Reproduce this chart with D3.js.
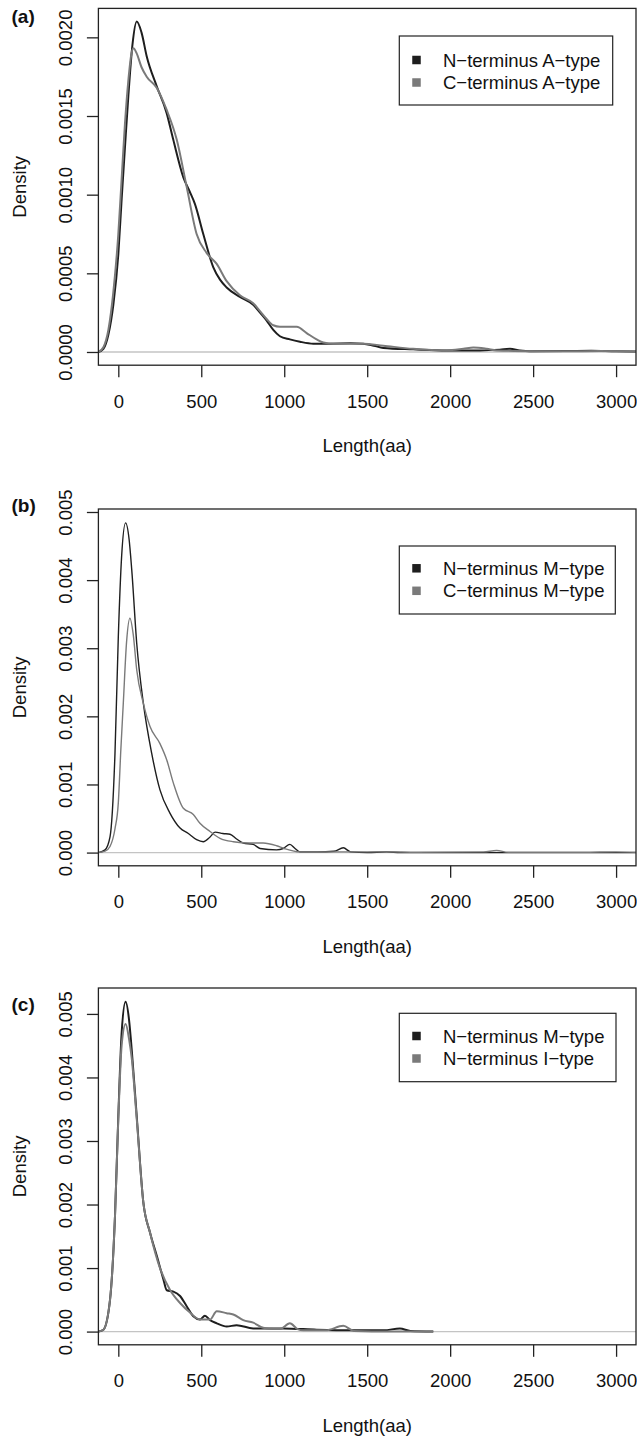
<!DOCTYPE html>
<html>
<head>
<meta charset="utf-8">
<script src="https://cdn.jsdelivr.net/npm/d3@7"></script>
<style>
  html, body { margin: 0; padding: 0; background: #fff; }
  svg { display: block; }
  text { font-family: "Liberation Sans", Arial, Helvetica, sans-serif; fill: #111; }
</style>
</head>
<body>
<svg id="chart" width="637" height="1437"></svg>
<script>
// ---------------- DATA ----------------
const xTickValues = [0, 500, 1000, 1500, 2000, 2500, 3000];
const xLimits = [0, 3000];
const xAxisTitle = "Length(aa)";
const yAxisTitle = "Density";

const panelLabels = ["(a)", "(b)", "(c)"];

const yTicksA = [0, 0.0005, 0.0010, 0.0015, 0.0020];
const yTickLabelsA = ["0.0000", "0.0005", "0.0010", "0.0015", "0.0020"];
const yMaxA = 0.0021;
const yTicksBC = [0, 0.001, 0.002, 0.003, 0.004, 0.005];
const yTickLabelsBC = ["0.000", "0.001", "0.002", "0.003", "0.004", "0.005"];
const yMaxB = 0.00485;
const yMaxC = 0.0052;

const legendA = ["N\u2212terminus A\u2212type", "C\u2212terminus A\u2212type"];
const legendB = ["N\u2212terminus M\u2212type", "C\u2212terminus M\u2212type"];
const legendC = ["N\u2212terminus M\u2212type", "N\u2212terminus I\u2212type"];

// density curves: [length, density]
const nTermA = [[-120,0],[-90,0.00002],[-60,0.00011],[-30,0.0003],[0,0.00062],[20,0.00097],[40,0.0013],[60,0.00162],[85,0.00195],[111,0.0021],[140,0.00203],[171,0.00188],[231,0.00169],[291,0.00152],[331,0.00135],[392,0.00111],[430,0.00102],[462,0.00094],[512,0.00075],[572,0.00054],[613,0.00046],[653,0.00041],[733,0.00035],[813,0.0003],[854,0.00025],[894,0.0002],[934,0.00014],[974,0.0001],[1034,0.00008],[1095,0.000065],[1175,0.000053],[1276,0.000053],[1400,0.000055],[1476,0.000053],[1540,0.00004],[1597,0.000026],[1777,0.000017],[1979,0.00001],[2179,0.00001],[2300,0.000015],[2360,0.00002],[2420,0.00001],[2480,0.000005],[2700,0.000006],[2850,0.000008],[3000,0.000004],[3120,0.000003]];
const cTermA = [[-120,0],[-90,0.00003],[-60,0.00014],[-30,0.00038],[0,0.00075],[20,0.0011],[40,0.00145],[60,0.00172],[80,0.0019],[91,0.00193],[110,0.0019],[140,0.00181],[171,0.00175],[231,0.00168],[291,0.00154],[352,0.00135],[412,0.00105],[472,0.00075],[532,0.00063],[593,0.00056],[653,0.00045],[733,0.00036],[813,0.00031],[854,0.00026],[894,0.00021],[934,0.00017],[974,0.00016],[1075,0.00016],[1135,0.00012],[1195,0.00008],[1236,0.00006],[1300,0.000052],[1476,0.000053],[1597,0.00004],[1777,0.00002],[1979,0.00001],[2080,0.00002],[2140,0.000028],[2220,0.00002],[2280,0.00001],[2500,0.000005],[2700,0.000004],[2900,0.000006],[3120,0.000003]];

const nTermMb = [[-120,0],[-80,0.00004],[-50,0.00023],[-20,0.00146],[0,0.00317],[20,0.00435],[44,0.00484],[65,0.0046],[81,0.00415],[111,0.00307],[151,0.00219],[201,0.00146],[251,0.00092],[311,0.00058],[372,0.00036],[422,0.00028],[472,0.00019],[512,0.00016],[553,0.00023],[583,0.0003],[630,0.00028],[673,0.00027],[713,0.0002],[753,0.00014],[813,0.00012],[854,0.00006],[954,0.00004],[994,0.00006],[1034,0.00012],[1065,0.00006],[1095,0.00001],[1200,0.00001],[1300,0.00002],[1356,0.00007],[1400,0.00001],[1500,0],[1617,0.00001],[1700,0],[2000,0],[3120,0]];
const cTermMb = [[-120,0],[-80,0.00002],[-50,0.00009],[-20,0.00035],[0,0.00073],[15,0.0015],[30,0.00219],[50,0.0031],[70,0.00344],[90,0.0032],[111,0.00268],[151,0.00219],[191,0.00185],[251,0.0016],[292,0.00136],[332,0.00102],[392,0.00065],[452,0.00056],[492,0.00043],[553,0.00031],[613,0.00021],[693,0.00016],[793,0.00014],[873,0.00014],[954,0.0001],[1000,0.00006],[1095,0.00001],[1300,0.00001],[1617,0.00001],[1800,0.000005],[2200,0.00001],[2280,0.00003],[2350,0.000005],[2800,0.000005],[3000,0.00001],[3120,0.000005]];

const nTermMc = [[-120,0],[-90,0.00003],[-50,0.0005],[-20,0.00182],[0,0.00339],[20,0.0047],[44,0.00519],[65,0.0049],[81,0.00443],[111,0.00339],[151,0.00203],[191,0.00156],[231,0.0012],[271,0.00083],[292,0.00065],[332,0.00063],[372,0.00056],[412,0.0004],[452,0.00024],[492,0.00019],[522,0.00025],[553,0.00018],[593,0.00013],[653,0.00008],[713,0.0001],[813,0.00005],[994,0.00005],[1195,0.00003],[1400,0.00002],[1600,0.00002],[1697,0.00005],[1760,0.00001],[1898,0]];
const nTermIc = [[-120,0],[-90,0.00003],[-50,0.0005],[-20,0.00182],[0,0.00335],[20,0.0045],[44,0.00484],[65,0.0046],[81,0.0043],[111,0.00335],[151,0.00203],[191,0.00156],[251,0.001],[311,0.00066],[372,0.00045],[432,0.0003],[492,0.00019],[553,0.00019],[593,0.00032],[653,0.00029],[693,0.00027],[753,0.00018],[813,0.00014],[873,0.00006],[934,0.00004],[974,0.00004],[1034,0.00013],[1080,0.00004],[1115,0.00002],[1250,0.00002],[1356,0.00009],[1420,0.00001],[1637,0],[1898,0]];

const seriesColors = ["#1e1e1e", "#7a7a7a"];

// ---------------- LAYOUT ----------------
const svg = d3.select("#chart");
const FONT = 18.5;
const plotLeft = 98.4, plotRight = 636;
const plotH = 356.8;

const panels = [
  { label: panelLabels[0], labelY: 23, top: 8.4, yMax: yMaxA, ticks: yTicksA, tickLabels: yTickLabelsA,
    series: [nTermA, cTermA], legend: legendA, legBox: [399.3, 36, 213.4, 69], legRow0: 60, lw: [2.0, 2.0] },
  { label: panelLabels[1], labelY: 512, top: 509, yMax: yMaxB, ticks: yTicksBC, tickLabels: yTickLabelsBC,
    series: [nTermMb, cTermMb], legend: legendB, legBox: [399.3, 546, 216, 68], legRow0: 568.3, lw: [1.4, 1.4] },
  { label: panelLabels[2], labelY: 1011, top: 988, yMax: yMaxC, ticks: yTicksBC, tickLabels: yTickLabelsBC,
    series: [nTermMc, nTermIc], legend: legendC, legBox: [399.3, 1013.3, 216.7, 68.4], legRow0: 1036, lw: [2.0, 2.0] }
];

const xPad = (xLimits[1] - xLimits[0]) * 0.04;
const x = d3.scaleLinear().domain([xLimits[0] - xPad, xLimits[1] + xPad]).range([plotLeft, plotRight]);

panels.forEach((p, i) => {
  const bottom = p.top + plotH;
  const y = d3.scaleLinear().domain([-0.04 * p.yMax, 1.04 * p.yMax]).range([bottom, p.top]);
  const g = svg.append("g");

  const clipId = "clip" + i;
  svg.append("clipPath").attr("id", clipId).append("rect")
    .attr("x", plotLeft).attr("y", p.top).attr("width", plotRight - plotLeft).attr("height", plotH);

  // zero line
  g.append("line")
    .attr("x1", plotLeft).attr("x2", plotRight)
    .attr("y1", y(0)).attr("y2", y(0))
    .attr("stroke", "#c4c4c4").attr("stroke-width", 1.3);

  // curves
  const line = d3.line().x(d => x(d[0])).y(d => y(d[1])).curve(d3.curveMonotoneX);
  p.series.forEach((s, k) => {
    g.append("path").datum(s)
      .attr("clip-path", `url(#${clipId})`)
      .attr("d", line)
      .attr("fill", "none")
      .attr("stroke", seriesColors[k])
      .attr("stroke-width", p.lw[k])
      .attr("stroke-linejoin", "round");
  });
  // redraw first (black) on top where it matters? keep order: black then grey as in R

  // box
  g.append("rect")
    .attr("x", plotLeft).attr("y", p.top)
    .attr("width", plotRight - plotLeft).attr("height", plotH)
    .attr("fill", "none").attr("stroke", "#222").attr("stroke-width", 1.3);

  // x axis
  const xa = g.append("g").attr("transform", `translate(0,${bottom})`)
    .call(d3.axisBottom(x).tickValues(xTickValues).tickSize(12).tickFormat(d3.format("d")));
  xa.select(".domain").remove();
  xa.selectAll(".tick line").attr("stroke", "#222").attr("stroke-width", 1.3);
  xa.selectAll(".tick text").attr("y", 42.5).attr("dy", 0)
    .style("font-size", FONT + "px").style("font-family", '"Liberation Sans", Arial, sans-serif').attr("fill", "#111");

  // y axis
  const ya = g.append("g").attr("transform", `translate(${plotLeft},0)`)
    .call(d3.axisLeft(y).tickValues(p.ticks).tickSize(11.5).tickFormat((d, j) => p.tickLabels[j]));
  ya.select(".domain").remove();
  ya.selectAll(".tick line").attr("stroke", "#222").attr("stroke-width", 1.3);
  ya.selectAll(".tick text")
    .attr("x", 0).attr("y", 0).attr("dy", 0)
    .attr("text-anchor", "middle")
    .attr("transform", "translate(-26.7,0) rotate(-90)")
    .style("font-size", FONT + "px").style("font-family", '"Liberation Sans", Arial, sans-serif').attr("fill", "#111");

  // axis titles
  g.append("text")
    .attr("x", (plotLeft + plotRight) / 2).attr("y", bottom + 87)
    .attr("text-anchor", "middle").style("font-size", FONT + "px")
    .text(xAxisTitle);
  g.append("text")
    .attr("transform", `translate(26,${p.top + plotH / 2}) rotate(-90)`)
    .attr("text-anchor", "middle").style("font-size", FONT + "px")
    .text(yAxisTitle);

  // panel label
  g.append("text")
    .attr("x", 11.5).attr("y", p.labelY)
    .style("font-size", "19px").style("font-weight", "bold")
    .text(p.label);

  // legend
  const [lx, ly, lw, lh] = p.legBox;
  g.append("rect").attr("x", lx).attr("y", ly).attr("width", lw).attr("height", lh)
    .attr("fill", "#fff").attr("stroke", "#222").attr("stroke-width", 1.2);
  p.legend.forEach((t, k) => {
    const cy = p.legRow0 + k * 22.5;
    g.append("rect").attr("x", 416.5 - 4.25).attr("y", cy - 4.25).attr("width", 8.5).attr("height", 8.5)
      .attr("fill", seriesColors[k]);
    g.append("text").attr("x", 443).attr("y", cy + 6.6)
      .style("font-size", FONT + "px").text(t);
  });
});
</script>
</body>
</html>
